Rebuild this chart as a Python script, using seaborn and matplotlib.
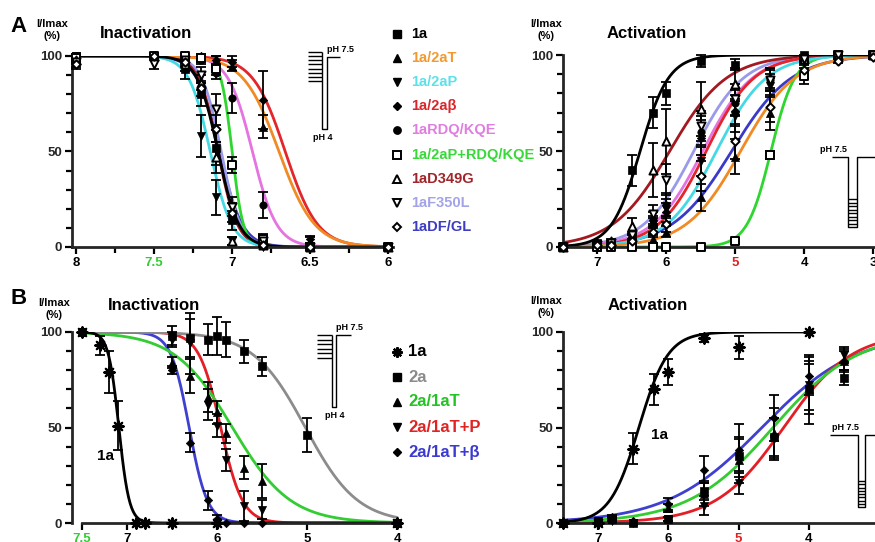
import numpy as np
import pandas as pd
import matplotlib.pyplot as plt
import seaborn as sns

sns.set_theme(style="ticks")
plt.rcParams['font.family'] = ['Liberation Sans', 'DejaVu Sans']
nan = np.nan

# ---------------- panel A ----------------
a_names = ["1a", "1a/2aT", "1a/2aP", "1a/2a\u03b2", "1aRDQ/KQE",
           "1a/2aP+RDQ/KQE", "1aD349G", "1aF350L", "1aDF/GL"]

# inactivation: pH grid, mean I/Imax (%) and SEM, one row per series
a_inact_ph = [8.0, 7.5, 7.3, 7.2, 7.1, 7.0, 6.8, 6.5, 6.0]
a_inact_mean = [
    [100, 100, 93, 80, 52, 14, 1, 0, 0],
    [100, 100, 100, 99, 98, 95, 63, 3, 0],
    [100, 100, 95, 58, 26, 3, 0, 0, 0],
    [100, 100, 100, 100, 98, 97, 77, 4, 0],
    [100, 100, 100, 98, 91, 78, 22, 1, 0],
    [99, 100, 100, 99, 93, 43, 4, 0, 0],
    [98, 100, 96, 86, 47, 3, 1, 0, 0],
    [97, 96, 98, 90, 72, 21, 3, 0, 0],
    [96, 100, 97, 83, 62, 18, 1, 0, 0],
]
a_inact_err = [
    [1, 1, 5, 6, 9, 5, 0, 0, 0],
    [0, 0, 0, 2, 2, 3, 6, 2, 0],
    [0, 0, 3, 11, 9, 2, 0, 0, 0],
    [0, 0, 0, 1, 2, 3, 15, 2, 0],
    [0, 0, 0, 2, 3, 8, 7, 1, 0],
    [2, 0, 0, 1, 3, 4, 3, 0, 0],
    [2, 0, 2, 4, 8, 2, 1, 0, 0],
    [3, 3, 2, 4, 8, 5, 3, 0, 0],
    [3, 0, 2, 4, 7, 5, 1, 0, 0],
]
# Hill fits (pH50, nH)
a_inact_ph50 = [7.09, 6.70, 7.14, 6.66, 6.87, 7.00, 7.09, 7.07, 7.08]
a_inact_nh = [6.5, 3.8, 6.3, 4.2, 5.6, 12.0, 7.0, 7.0, 6.0]

# activation
a_act_ph = [7.5, 7.0, 6.8, 6.5, 6.2, 6.0, 5.5, 5.0, 4.5, 4.0, 3.5, 3.0]
a_act_mean = [
    [0, 2, 2, 40, 70, 80, 97, 95, nan, 100, 100, 100],
    [0, 0, 1, 1, 4, 8, 26, 47, 70, 92, 99, 100],
    [0, 1, 2, 4, 12, 20, 45, 68, 84, 97, 100, 100],
    [0, 1, 2, 5, 11, 18, 57, 71, 88, 99, 100, 100],
    [0, 1, 1, 5, 14, 22, 60, 75, 87, 98, 100, 100],
    [0, 0, 0, 0, 0, 0, 0, 3, 48, 89, 100, 100],
    [0, 2, 3, 11, 40, 55, 72, 85, nan, 98, 100, 100],
    [0, 1, 2, 6, 17, 35, 63, 77, 87, 98, 100, 100],
    [0, 1, 1, 3, 8, 12, 37, 55, 73, 92, 97, 99],
]
a_act_err = [
    [0, 1, 1, 8, 8, 6, 3, 3, nan, 0, 0, 0],
    [0, 0, 1, 1, 2, 3, 7, 9, 9, 4, 1, 0],
    [0, 1, 1, 2, 4, 5, 8, 8, 6, 2, 0, 0],
    [0, 1, 1, 2, 4, 5, 9, 8, 5, 1, 0, 0],
    [0, 1, 1, 2, 4, 6, 8, 7, 5, 1, 0, 0],
    [0, 0, 0, 0, 0, 0, 0, 1, 2, 4, 0, 0],
    [0, 1, 1, 4, 14, 17, 14, 8, nan, 1, 0, 0],
    [0, 1, 1, 2, 5, 8, 8, 8, 6, 1, 0, 0],
    [0, 1, 1, 1, 3, 4, 8, 9, 8, 4, 1, 1],
]
a_act_ph50 = [6.38, 4.92, 5.27, 5.42, 5.47, 4.48, 5.95, 5.60, 5.05]
a_act_nh = [2.1, 1.1, 1.2, 1.25, 1.2, 2.5, 1.05, 1.2, 1.0]

a_colors = ["#000000", "#F08A24", "#45D9E6", "#E3262B", "#E573E0",
            "#2FD62F", "#A3191F", "#9A9AEA", "#3A3AC8"]
a_markers = ["s", "^", "v", "D", "o", "s", "^", "v", "D"]
a_filled = [True, True, True, True, True, False, False, False, False]

# ---------------- panel B ----------------
b_names = ["1a", "2a", "2a/1aT", "2a/1aT+P", "2a/1aT+\u03b2"]

b_inact_ph = [7.5, 7.3, 7.2, 7.1, 6.9, 6.8, 6.5, 6.3, 6.1, 6.0, 5.9, 5.7, 5.5, 5.0, 4.0]
b_inact_mean = [
    [100, 93, 79, 51, 0, 0, 0, nan, nan, 0, nan, nan, nan, nan, 0],
    [100, nan, nan, nan, nan, nan, 98, 97, 96, 98, 96, 90, 82, 46, 0],
    [100, nan, nan, nan, nan, nan, 84, 77, 66, 58, 47, 29, 22, nan, 0],
    [100, nan, nan, nan, nan, nan, 96, 94, 62, 51, 33, 9, 7, nan, 0],
    [100, nan, nan, nan, nan, nan, 80, 42, 12, 2, 0, 0, 0, nan, 0],
]
b_inact_err = [
    [0, 5, 11, 13, 0, 0, 0, nan, nan, 0, nan, nan, nan, nan, 0],
    [0, nan, nan, nan, nan, nan, 5, 10, 8, 10, 9, 6, 5, 9, 0],
    [0, nan, nan, nan, nan, nan, 3, 9, 8, 6, 5, 6, 9, nan, 0],
    [0, nan, nan, nan, nan, nan, 4, 16, 8, 6, 6, 8, 5, nan, 0],
    [0, nan, nan, nan, nan, nan, 2, 5, 5, 2, 0, 0, 0, nan, 0],
]
b_inact_ph50 = [7.09, 5.02, 5.83, 5.96, 6.31]
b_inact_nh = [7.5, 1.5, 1.35, 3.6, 4.3]

b_act_ph = [7.5, 7.0, 6.8, 6.5, 6.2, 6.0, 5.5, 5.0, 4.5, 4.0, 3.5]
b_act_mean = [
    [0, 0, nan, 39, 70, 79, 97, 92, nan, 100, nan],
    [0, 1, 2, 0, nan, 2, 17, 35, 45, 70, 76],
    [0, 1, 2, 1, nan, 8, 15, 33, 47, 70, 85],
    [0, 0, 1, 0, nan, 2, 9, 21, 44, 72, 88],
    [0, 1, 3, 1, nan, 10, 28, 38, 55, 77, 85],
]
b_act_err = [
    [0, 0, nan, 8, 8, 7, 2, 6, nan, 0, nan],
    [0, 0, 1, 0, nan, 1, 5, 9, 10, 13, 4],
    [0, 0, 1, 0, nan, 2, 6, 12, 13, 18, 6],
    [0, 0, 0, 0, nan, 1, 5, 6, 11, 13, 4],
    [0, 0, 1, 0, nan, 3, 7, 14, 12, 10, 5],
]
b_act_ph50 = [6.42, nan, 4.51, 4.36, 4.67]
b_act_nh = [2.1, nan, 0.72, 0.9, 0.644]

b_colors = ["#000000", "#8C8C8C", "#33CC33", "#E41E26", "#3F3FD0"]
b_markers = [(8, 2, 0), "s", "^", "v", "D"]
b_filled = [None, True, True, True, True]

W, H = 875, 542
fig = plt.figure(figsize=(W / 100, H / 100), dpi=100)


def hill(ph, ph50, nh, rising):
    ph = np.asarray(ph)
    if rising:
        return 100 / (1 + 10 ** (nh * (ph - ph50)))
    return 100 / (1 + 10 ** (nh * (ph50 - ph)))


def msize(m):
    return {"s": 26, "^": 34, "v": 34, "D": 18, "o": 28}.get(m, 55)


def panel(rect, ph, means, errs, ph50s, nhs, names, colors, markers, filled,
          rising, xlim, xrange_curve, curve_stop=None):
    ax = fig.add_axes(rect)
    xs = np.linspace(xrange_curve[0], xrange_curve[1], 400)
    parts = []
    for i, (nm, p, n) in enumerate(zip(names, ph50s, nhs)):
        if np.isnan(p):
            continue
        x = xs
        if curve_stop and nm in curve_stop:
            x = np.linspace(xrange_curve[0], curve_stop[nm], 400)
        parts.append(pd.DataFrame({"pH": x, "I": hill(x, p, n, rising), "series": nm}))
    curves = pd.concat(parts)
    order = [n for n in names if n in set(curves.series)][::-1]
    sns.lineplot(data=curves, x="pH", y="I", hue="series", hue_order=order,
                 palette=dict(zip(names, colors)), estimator=None, sort=False,
                 legend=False, linewidth=2.0, ax=ax, zorder=2)
    for i, nm in enumerate(names):
        df = pd.DataFrame({"pH": ph, "I": means[i], "err": errs[i]}).dropna(subset=["I"])
        bars = df[df.err > 0]
        if len(bars):
            eb = ax.errorbar(bars.pH, bars.I, yerr=bars.err, fmt="none", ecolor="black",
                             elinewidth=1.3, capsize=3.5, capthick=1.3, zorder=3)
            for art in list(eb[1]) + list(eb[2]):
                art.set_clip_on(False)
        m = markers[i]
        if filled[i] is None:
            sns.scatterplot(data=df, x="pH", y="I", marker=m, s=msize(m), color="black",
                            linewidth=1.6, ax=ax, zorder=4, clip_on=False, legend=False)
        elif filled[i]:
            sns.scatterplot(data=df, x="pH", y="I", marker=m, s=msize(m), color="black",
                            edgecolor="black", linewidth=0.5, ax=ax, zorder=4,
                            clip_on=False, legend=False)
        else:
            sns.scatterplot(data=df, x="pH", y="I", marker=m, s=msize(m), color="white",
                            edgecolor="black", linewidth=1.4, ax=ax, zorder=4,
                            clip_on=False, legend=False)
    ax.set_xlim(*xlim)
    ax.set_ylim(0, 100)
    ax.set_xlabel("")
    ax.set_ylabel("")
    for s in ["top", "right"]:
        ax.spines[s].set_visible(False)
    for s in ["left", "bottom"]:
        ax.spines[s].set_linewidth(2.0)
    ax.set_yticks([0, 50, 100])
    ax.set_yticks(np.arange(0, 101, 10), minor=True)
    ax.tick_params(axis="both", which="major", direction="out", length=5, width=1.6,
                   labelsize=9.5, pad=2, color="black")
    ax.tick_params(axis="both", which="minor", direction="out", length=4, width=1.6,
                   color="black")
    for lab in ax.get_yticklabels():
        lab.set_fontweight("bold")
    ax.patch.set_alpha(0)
    return ax


def fx(px):
    return px / W


def fy(py):
    return 1 - py / H


def rect(x0, y0, x1, y1):
    return [fx(x0), fy(y1), fx(x1) - fx(x0), fy(y0) - fy(y1)]


def xticks(ax, major, labels, minor, colors):
    ax.set_xticks(major)
    ax.set_xticklabels(labels, fontweight="bold")
    ax.set_xticks(minor, minor=True)
    for lab, c in zip(ax.get_xticklabels(), colors):
        lab.set_color(c)


k = "black"
gr = "#33CC33"
rd = "#E02020"

ax1 = panel(rect(72, 56, 393, 247), a_inact_ph, a_inact_mean, a_inact_err,
            a_inact_ph50, a_inact_nh, a_names, a_colors, a_markers, a_filled,
            False, (8.025, 5.97), (8.0, 5.97))
xticks(ax1, [8, 7.5, 7, 6.5, 6], ["8", "7.5", "7", "6.5", "6"],
       [7.75, 7.25, 6.75, 6.25], [k, gr, k, k, k])

ax2 = panel(rect(563, 55, 875, 247), a_act_ph, a_act_mean, a_act_err,
            a_act_ph50, a_act_nh, a_names, a_colors, a_markers, a_filled,
            True, (7.5, 2.97), (7.5, 2.97))
xticks(ax2, [7, 6, 5, 4, 3], ["7", "6", "5", "4", "3"], [], [k, k, rd, k, k])

ax3 = panel(rect(72, 332, 400, 523), b_inact_ph, b_inact_mean, b_inact_err,
            b_inact_ph50, b_inact_nh, b_names, b_colors, b_markers, b_filled,
            False, (7.61, 3.97), (7.5, 4.0))
xticks(ax3, [7.5, 7, 6, 5, 4], ["7.5", "7", "6", "5", "4"], [], [gr, k, k, k, k])
ax3.spines["bottom"].set_bounds(7.5, 3.97)

ax4 = panel(rect(563, 332, 875, 523), b_act_ph, b_act_mean, b_act_err,
            b_act_ph50, b_act_nh, b_names, b_colors, b_markers, b_filled,
            True, (7.5, 3.06), (7.5, 3.06), curve_stop={"1a": 4.0})
xticks(ax4, [7, 6, 5, 4], ["7", "6", "5", "4"], [], [k, k, rd, k])

# ---------------- overlay: labels, legends, protocol sketches ----------------
ov = fig.add_axes([0, 0, 1, 1], zorder=10)
ov.set_xlim(0, W)
ov.set_ylim(H, 0)
ov.axis("off")
ov.patch.set_alpha(0)

bold = dict(fontweight="bold", color="black")
ov.text(10, 27, "A", fontsize=16, va="center", **bold)
ov.text(10, 299, "B", fontsize=16, va="center", **bold)
for (x, y) in [(52, 30), (546, 30), (54, 309), (546, 307)]:
    ov.text(x, y, "I/Imax\n(%)", fontsize=8, ha="center", va="center",
            linespacing=1.2, **bold)
ov.text(100, 33, "Inactivation", fontsize=12, va="center", **bold)
ov.text(607, 33, "Activation", fontsize=12, va="center", **bold)
ov.text(108, 306, "Inactivation", fontsize=12, va="center", **bold)
ov.text(608, 305, "Activation", fontsize=12, va="center", **bold)
ov.text(106, 456, "1a", fontsize=11, ha="center", va="center", **bold)
ov.text(659, 435, "1a", fontsize=11, ha="center", va="center", **bold)

a_label_colors = ["#000000", "#F39A2E", "#5CE1EA", "#D9262B", "#E07DE0",
                  "#38D838", "#A0252A", "#A3A3E8", "#3D3DC2"]
b_label_colors = ["#000000", "#8A8A8A", "#22C322", "#E02424", "#3B3BD0"]


def legend_row(x_m, x_t, y, name, col, m, fill, fs):
    ms = np.sqrt(msize(m))
    if fill is None:
        ov.plot([x_m], [y], marker=m, ms=ms, color="black", mew=1.6, ls="none")
    elif fill:
        ov.plot([x_m], [y], marker=m, ms=ms, color="black", ls="none")
    else:
        ov.plot([x_m], [y], marker=m, ms=ms, mfc="white", mec="black", mew=1.4, ls="none")
    ov.text(x_t, y, name, fontsize=fs, va="center", fontweight="bold", color=col)


for i, nm in enumerate(a_names):
    legend_row(397, 411, 34 + 24.1 * i, nm, a_label_colors[i], a_markers[i], a_filled[i], 10.5)
for i, nm in enumerate(b_names):
    legend_row(397, 408, 352 + 25 * i, nm, b_label_colors[i], b_markers[i], b_filled[i], 12)

lk = dict(color="black", lw=1.0, solid_capstyle="butt")
small = dict(fontsize=6.5, fontweight="bold", color="black")

# A inactivation protocol
for y in np.linspace(52, 81, 8):
    ov.plot([308, 322], [y, y], **lk)
ov.plot([322, 322, 327, 327, 340], [52, 129, 129, 57, 57], **lk)
ov.text(327, 50, "pH 7.5", va="center", **small)
ov.text(313, 138, "pH 4", va="center", **small)

# A activation protocol
ov.plot([832, 848, 848, 857, 857, 875], [157, 157, 227, 227, 157, 157], **lk)
for y in np.linspace(199, 224, 8):
    ov.plot([848, 857], [y, y], **lk)
ov.text(820, 149, "pH 7.5", va="center", **small)

# B inactivation protocol
for y in np.linspace(335, 358, 6):
    ov.plot([317, 332], [y, y], **lk)
ov.plot([332, 332, 336, 336, 351], [335, 407, 407, 335, 335], **lk)
ov.text(336, 327, "pH 7.5", va="center", **small)
ov.text(325, 415, "pH 4", va="center", **small)

# B activation protocol
ov.plot([830, 858, 858, 865, 865, 875], [435, 435, 507, 507, 435, 435], **lk)
for y in np.linspace(481, 504, 8):
    ov.plot([858, 865], [y, y], **lk)
ov.text(832, 428, "pH 7.5", va="center", **small)

fig.savefig("out.png", dpi=100)
